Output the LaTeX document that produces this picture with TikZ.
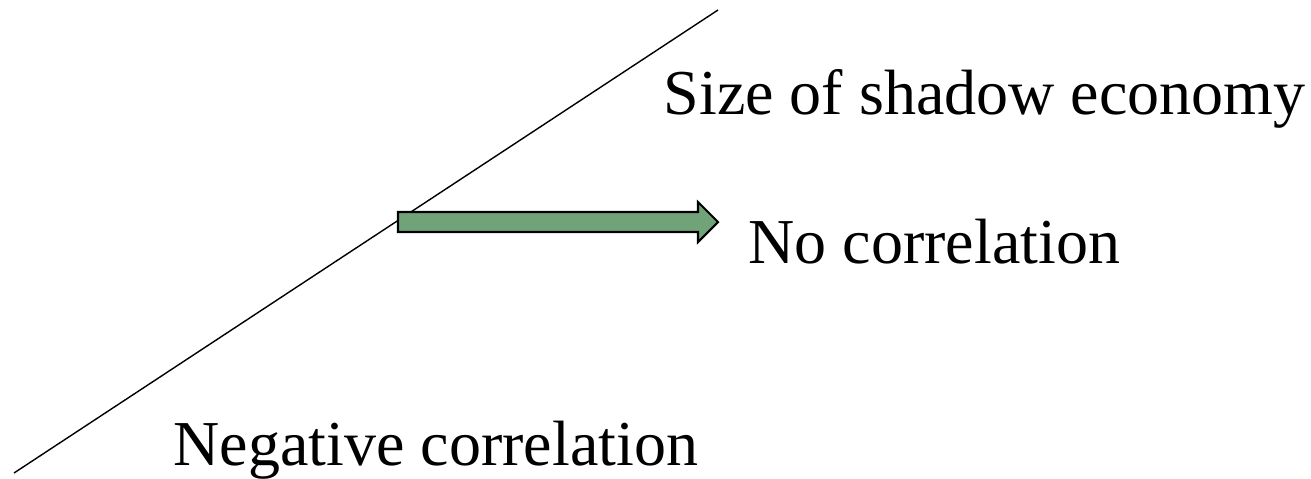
\documentclass[tikz,border=0pt]{standalone}
\usepackage{fontspec}
\setmainfont{Liberation Serif}
\usepackage{xcolor}
\usetikzlibrary{positioning}
\definecolor{arrowgreen}{RGB}{113,163,121}

\begin{document}
\begin{tikzpicture}[x=0.01cm,y=-0.01cm,
    lbl/.style={anchor=base west,inner sep=0pt,font=\fontsize{18.2}{20}\selectfont},
    blockarrow/.style={fill=arrowgreen,draw=black,line width=0.6pt,line join=miter}]
  \useasboundingbox (0,0) rectangle (1311,478);
  % the rising line
  \coordinate (lo) at (14,473);
  \coordinate (hi) at (718,10);
  \draw[line width=0.4pt] (lo) -- (hi);
  % labels
  \node[lbl] (size) at (663,114) {Size of shadow economy};
  \node[lbl] (nocor) at (748,263) {No correlation};
  \node[lbl] (negcor) at (173,465) {Negative correlation};
  % block arrow
  \draw[blockarrow] (398,212) -- (698,212) -- (698,202) -- (718,222)
     -- (698,242) -- (698,232) -- (398,232) -- cycle;
\end{tikzpicture}
\end{document}
